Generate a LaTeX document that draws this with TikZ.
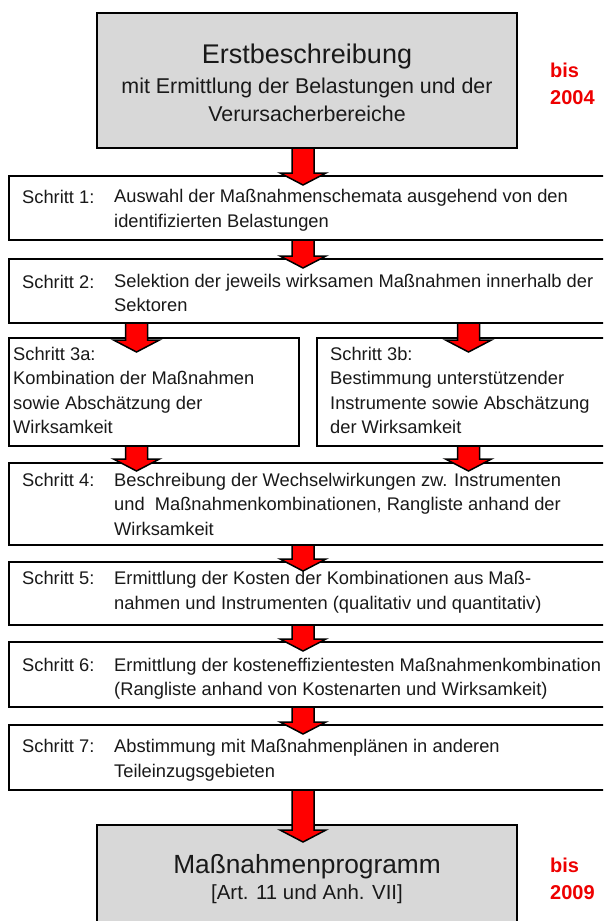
\documentclass[tikz,border=0pt]{standalone}
\usepackage{fontspec}
\setmainfont{Liberation Sans}
\usetikzlibrary{calc}
\definecolor{boxgray}{RGB}{216,216,216}
\definecolor{txt}{RGB}{25,25,25}
\definecolor{arrred}{RGB}{255,0,0}
\definecolor{datered}{RGB}{238,0,0}
% #1 tip depth below target top, #2 x of arrow, #3 source, #4 target
\newcommand\blockarrow[4][11pt]{%
  \draw[blockarr] let \p1=(#3.south), \p2=(#4.north) in
    ({#2-11pt},{\y1}) -- ({#2+11pt},{\y1}) -- ({#2+11pt},{\y2+12pt-#1})
    -- ({#2+23pt},{\y2+12pt-#1}) -- ({#2},{\y2-#1}) -- ({#2-23pt},{\y2+12pt-#1})
    -- ({#2-11pt},{\y2+12pt-#1}) -- cycle;}
\tikzset{
  stepbox/.style={draw=black, line width=2pt, fill=white, rectangle, anchor=north west, inner sep=0pt, outer sep=0pt},
  bigbox/.style={draw=black, line width=2.4pt, fill=boxgray, rectangle, anchor=north west, inner sep=0pt, outer sep=0pt},
  lbl/.style={anchor=base west, inner sep=0pt, text=txt, align=left, font=\fontsize{18.3}{24.3}\selectfont},
  bigtitle/.style={anchor=base, inner sep=0pt, text=txt},
  datelbl/.style={anchor=base west, inner sep=0pt, text=datered, align=left, font=\fontsize{20}{27}\selectfont\bfseries},
  blockarr/.style={draw=black, line width=1.5pt, fill=arrred, line join=miter},
}
\begin{document}
\begin{tikzpicture}[x=1pt,y=-1pt]
\useasboundingbox (0,0) rectangle (603,921);
\clip (0,0) rectangle (603,921);
\fill[white] (0,0) rectangle (603,921);
% big boxes
\node[bigbox, minimum width=420pt, minimum height=135pt] (top) at (97,13) {};
\node[bigbox, minimum width=420pt, minimum height=130pt] (bottom) at (97,825) {};
% step boxes
\node[stepbox, minimum width=611pt, minimum height=64pt] (s1) at (9,176) {};
\node[stepbox, minimum width=611pt, minimum height=64pt] (s2) at (9,259) {};
\node[stepbox, minimum width=290pt, minimum height=108pt] (s3a) at (9,338) {};
\node[stepbox, minimum width=300pt, minimum height=108pt] (s3b) at (317,338) {};
\node[stepbox, minimum width=611pt, minimum height=82pt] (s4) at (9,463) {};
\node[stepbox, minimum width=611pt, minimum height=63pt] (s5) at (9,562) {};
\node[stepbox, minimum width=611pt, minimum height=65pt] (s6) at (9,642) {};
\node[stepbox, minimum width=611pt, minimum height=65pt] (s7) at (9,725) {};
% texts of big boxes
\node[bigtitle, font=\fontsize{27}{30}\selectfont] (t1) at (307,63) {Erstbeschreibung};
\node[bigtitle, font=\fontsize{21.4}{25}\selectfont] (t2) at (307,93) {mit Ermittlung der Belastungen und der};
\node[bigtitle, font=\fontsize{21.4}{25}\selectfont] (t3) at (307,121) {Verursacherbereiche};
\node[bigtitle, font=\fontsize{26.3}{30}\selectfont] (b1) at (307,873) {Maßnahmenprogramm};
\node[bigtitle, font=\fontsize{20.4}{25}\selectfont] (b2) at (307,899) {[Art. 11 und Anh. VII]};
% multi-line nodes: base anchor = baseline of last line
\node[datelbl] (d1) at (550,104) {bis\\2004};
\node[datelbl] (d2) at (550,899) {bis\\2009};
% step texts
\node[lbl] (s1l) at (22,203) {Schritt 1:};
\node[lbl] (s1t) at (114,227) {Auswahl der Maßnahmenschemata ausgehend von den\\identifizierten Belastungen};
\node[lbl] (s2l) at (22,288) {Schritt 2:};
\node[lbl] (s2t) at (114,311.5) {Selektion der jeweils wirksamen Maßnahmen innerhalb der\\Sektoren};
\node[lbl, font=\fontsize{18.3}{24.5}\selectfont] (s3at) at (13,433.5) {Schritt 3a:\\Kombination der Maßnahmen\\sowie Abschätzung der\\Wirksamkeit};
\node[lbl, font=\fontsize{18.3}{24.5}\selectfont] (s3bt) at (330,433.5) {Schritt 3b:\\Bestimmung unterstützender\\Instrumente sowie Abschätzung\\der Wirksamkeit};
\node[lbl] (s4l) at (22,486) {Schritt 4:};
\node[lbl, font=\fontsize{18.3}{24.6}\selectfont] (s4t) at (114,535.2) {Beschreibung der Wechselwirkungen zw. Instrumenten\\und~ Maßnahmenkombinationen, Rangliste anhand der\\Wirksamkeit};
\node[lbl] (s5l) at (22,584) {Schritt 5:};
\node[lbl, font=\fontsize{18.3}{25}\selectfont] (s5t) at (114,609) {Ermittlung der Kosten der Kombinationen aus Maß-\\nahmen und Instrumenten (qualitativ und quantitativ)};
\node[lbl] (s6l) at (22,671) {Schritt 6:};
\node[lbl] (s6t) at (114,695.3) {Ermittlung der kosteneffizientesten Maßnahmenkombination\\(Rangliste anhand von Kostenarten und Wirksamkeit)};
\node[lbl] (s7l) at (22,752) {Schritt 7:};
\node[lbl, font=\fontsize{18.3}{25}\selectfont] (s7t) at (114,777) {Abstimmung mit Maßnahmenplänen in anderen\\Teileinzugsgebieten};
% arrows
\blockarrow[9pt]{303pt}{top}{s1}
\blockarrow[9pt]{303pt}{s1}{s2}
\blockarrow[14pt]{136.5pt}{s2}{s3a}
\blockarrow[14pt]{468.5pt}{s2}{s3b}
\blockarrow[8pt]{136.5pt}{s3a}{s4}
\blockarrow[8pt]{468.5pt}{s3b}{s4}
\blockarrow[9pt]{303pt}{s4}{s5}
\blockarrow[9pt]{303pt}{s5}{s6}
\blockarrow[9pt]{303pt}{s6}{s7}
\blockarrow[17pt]{303pt}{s7}{bottom}
\end{tikzpicture}
\end{document}
